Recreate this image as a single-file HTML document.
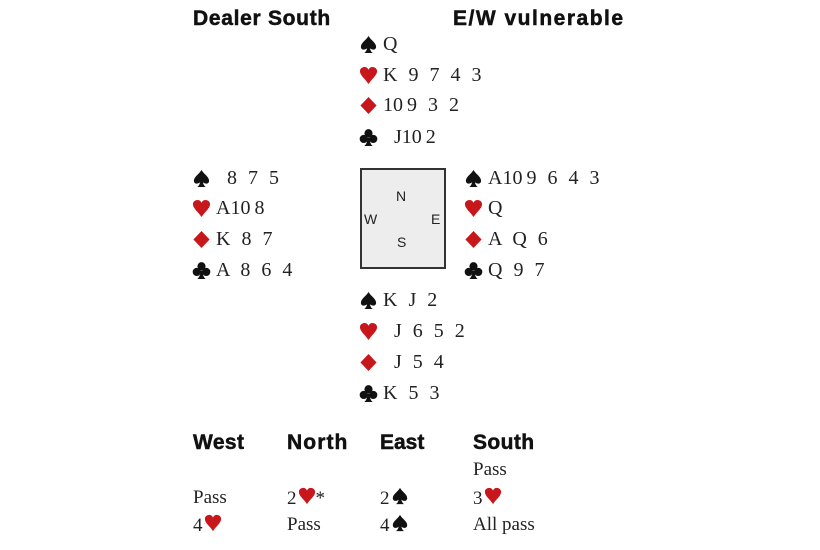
<!DOCTYPE html>
<html><head><meta charset="utf-8"><style>
body{margin:0;width:820px;height:550px;background:#fff;position:relative;overflow:hidden;font-family:"Liberation Serif",serif;color:#222}
.h{position:absolute;font-family:"Liberation Sans",sans-serif;font-weight:bold;font-size:21px;color:#111;line-height:24px;white-space:nowrap;-webkit-text-stroke:0.5px #111}
.r{position:absolute;font-size:20px;line-height:24px;white-space:nowrap;word-spacing:6px}
.r svg{position:absolute;left:0;top:3px}
.r span.t{position:absolute;left:24px;top:0}
.b{position:absolute;font-size:19px;line-height:22px;white-space:nowrap}
.b svg{vertical-align:-1px;margin-left:1px}
.box{position:absolute;left:360px;top:168px;width:82px;height:97px;background:#ededed;border:2px solid #333}
.d{position:absolute;font-family:"Liberation Sans",sans-serif;font-size:14px;color:#222}
</style></head><body>
<svg width="0" height="0" style="position:absolute">
<defs>
<symbol id="sp" viewBox="0 0 20 20"><path d="M10 1 C7 6 2 8 2 12.5 C2 15.5 5.5 16.5 8.5 14 C8 16.5 7 18 5.5 19 H14.5 C13 18 12 16.5 11.5 14 C14.5 16.5 18 15.5 18 12.5 C18 8 13 6 10 1Z" fill="#111"/></symbol>
<symbol id="he" viewBox="0 0 20 20"><path d="M10 19 C7 14 1 10 1 5.5 C1 2.5 3.5 1 6 1 C8 1 9.5 2.5 10 4 C10.5 2.5 12 1 14 1 C16.5 1 19 2.5 19 5.5 C19 10 13 14 10 19Z" fill="#c8161d"/></symbol>
<symbol id="di" viewBox="0 0 20 20"><path d="M10 1 L18.5 10 L10 19 L1.5 10Z" fill="#c8161d"/></symbol>
<symbol id="cl" viewBox="0 0 20 20"><circle cx="10" cy="5.5" r="4.3" fill="#111"/><circle cx="5" cy="11.5" r="4.3" fill="#111"/><circle cx="15" cy="11.5" r="4.3" fill="#111"/><path d="M9 10 H11 C11.3 15 12.5 17.5 14.5 19 H5.5 C7.5 17.5 8.7 15 9 10Z" fill="#111"/></symbol>
</defs></svg>

<div class="h" style="left:193px;top:7px;letter-spacing:0.7px">Dealer South</div>
<div class="h" style="left:453px;top:7px;letter-spacing:1.5px">E/W vulnerable</div>

<div class="r" style="left:359px;top:32px"><svg width="19" height="19"><use href="#sp"/></svg><span class="t">Q</span></div>
<div class="r" style="left:359px;top:63px"><svg width="19" height="19"><use href="#he"/></svg><span class="t">K 9 7 4 3</span></div>
<div class="r" style="left:359px;top:93px"><svg width="19" height="19"><use href="#di"/></svg><span class="t">10&#8201;9 3 2</span></div>
<div class="r" style="left:359px;top:125px"><svg width="19" height="19"><use href="#cl"/></svg><span class="t">&nbsp;J10&#8201;2</span></div>

<div class="r" style="left:192px;top:166px"><svg width="19" height="19"><use href="#sp"/></svg><span class="t">&nbsp;8 7 5</span></div>
<div class="r" style="left:192px;top:196px"><svg width="19" height="19"><use href="#he"/></svg><span class="t">A10&#8201;8</span></div>
<div class="r" style="left:192px;top:227px"><svg width="19" height="19"><use href="#di"/></svg><span class="t">K 8 7</span></div>
<div class="r" style="left:192px;top:258px"><svg width="19" height="19"><use href="#cl"/></svg><span class="t">A 8 6 4</span></div>

<div class="r" style="left:464px;top:166px"><svg width="19" height="19"><use href="#sp"/></svg><span class="t">A10&#8201;9 6 4 3</span></div>
<div class="r" style="left:464px;top:196px"><svg width="19" height="19"><use href="#he"/></svg><span class="t">Q</span></div>
<div class="r" style="left:464px;top:227px"><svg width="19" height="19"><use href="#di"/></svg><span class="t">A Q 6</span></div>
<div class="r" style="left:464px;top:258px"><svg width="19" height="19"><use href="#cl"/></svg><span class="t">Q 9 7</span></div>

<div class="box"></div>
<div class="d" style="left:396px;top:188px">N</div>
<div class="d" style="left:364px;top:211px">W</div>
<div class="d" style="left:431px;top:211px">E</div>
<div class="d" style="left:397px;top:234px">S</div>

<div class="r" style="left:359px;top:288px"><svg width="19" height="19"><use href="#sp"/></svg><span class="t">K J 2</span></div>
<div class="r" style="left:359px;top:319px"><svg width="19" height="19"><use href="#he"/></svg><span class="t">&nbsp;J 6 5 2</span></div>
<div class="r" style="left:359px;top:350px"><svg width="19" height="19"><use href="#di"/></svg><span class="t">&nbsp;J 5 4</span></div>
<div class="r" style="left:359px;top:381px"><svg width="19" height="19"><use href="#cl"/></svg><span class="t">K 5 3</span></div>

<div class="h" style="left:193px;top:431px;letter-spacing:0.4px">West</div>
<div class="h" style="left:287px;top:431px;letter-spacing:1.1px">North</div>
<div class="h" style="left:380px;top:431px;letter-spacing:0px">East</div>
<div class="h" style="left:473px;top:431px;letter-spacing:0.4px">South</div>

<div class="b" style="left:473px;top:459px">Pass</div>
<div class="b" style="left:193px;top:487px">Pass</div>
<div class="b" style="left:287px;top:487px">2<svg width="18" height="18"><use href="#he"/></svg>*</div>
<div class="b" style="left:380px;top:487px">2<svg width="18" height="18"><use href="#sp"/></svg></div>
<div class="b" style="left:473px;top:487px">3<svg width="18" height="18"><use href="#he"/></svg></div>
<div class="b" style="left:193px;top:514px">4<svg width="18" height="18"><use href="#he"/></svg></div>
<div class="b" style="left:287px;top:514px">Pass</div>
<div class="b" style="left:380px;top:514px">4<svg width="18" height="18"><use href="#sp"/></svg></div>
<div class="b" style="left:473px;top:514px">All pass</div>
</body></html>
